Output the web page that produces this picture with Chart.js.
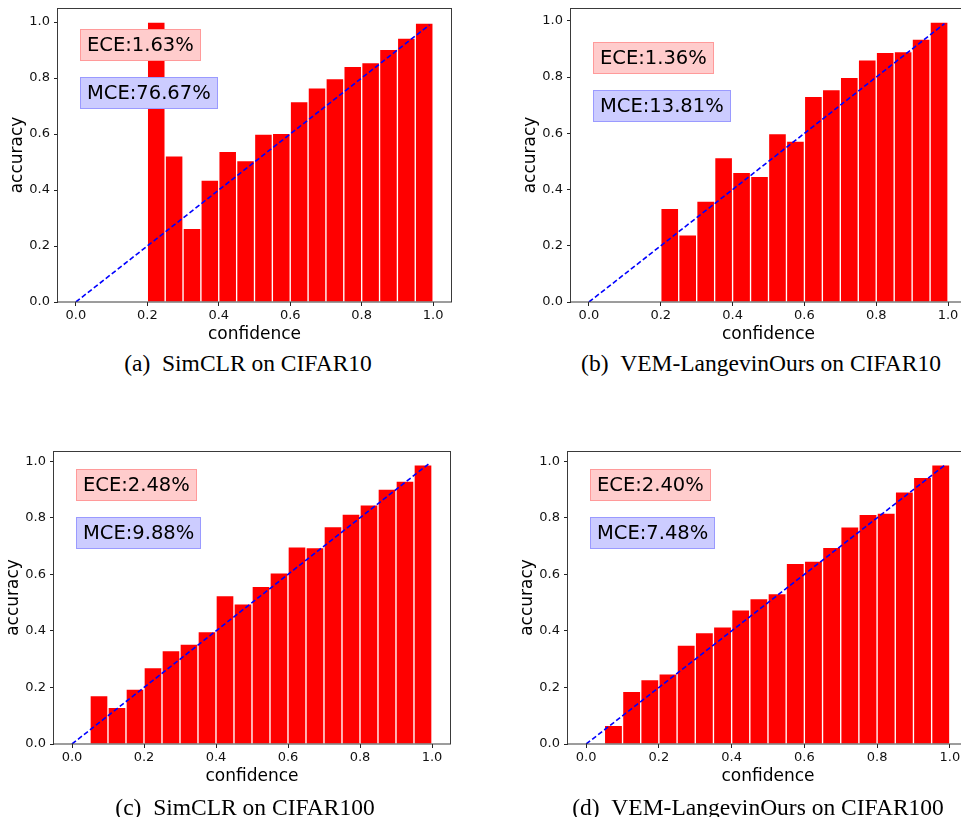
<!DOCTYPE html>
<html>
<head>
<meta charset="utf-8">
<script src="https://cdn.jsdelivr.net/npm/chart.js@4.4.0/dist/chart.umd.min.js"></script>
<style>
  html, body { margin: 0; padding: 0; background: #fff; width: 961px; height: 817px; overflow: hidden; }
  body { position: relative; }
  .cap {
    position: absolute;
    font-family: "Liberation Serif", "Times New Roman", serif;
    font-size: 23.5px;
    line-height: 23px;
    color: #000;
    white-space: nowrap;
    transform: translateX(-50%);
  }
</style>
</head>
<body>
<script>
// bin centres of the 20 confidence bins (width 0.05)
const binCenters = [0.025, 0.075, 0.125, 0.175, 0.225, 0.275, 0.325, 0.375, 0.425, 0.475,
                    0.525, 0.575, 0.625, 0.675, 0.725, 0.775, 0.825, 0.875, 0.925, 0.975];
const xTickValues = [0, 0.2, 0.4, 0.6, 0.8, 1.0];
const yTickValues = [0, 0.2, 0.4, 0.6, 0.8, 1.0];
const idealLine = [0, 0.99];

// accuracy per bin, null = empty bin
const accSimclrCifar10  = [null, null, null, null, 1.000, 0.522, 0.263, 0.435, 0.538, 0.505,
                           0.600, 0.602, 0.716, 0.765, 0.798, 0.842, 0.855, 0.902, 0.943, 0.996];
const accOursCifar10    = [null, null, null, null, 0.333, 0.239, 0.359, 0.514, 0.461, 0.447,
                           0.599, 0.572, 0.732, 0.756, 0.799, 0.861, 0.888, 0.891, 0.935, 0.996];
const accSimclrCifar100 = [null, 0.171, 0.130, 0.194, 0.270, 0.330, 0.353, 0.398, 0.525, 0.496,
                           0.558, 0.605, 0.697, 0.695, 0.769, 0.813, 0.846, 0.902, 0.930, 0.987];
const accOursCifar100   = [null, 0.066, 0.186, 0.228, 0.248, 0.350, 0.394, 0.414, 0.475, 0.514,
                           0.532, 0.639, 0.647, 0.696, 0.768, 0.812, 0.817, 0.892, 0.943, 0.987];

const eceLabels = ['ECE:1.63%', 'ECE:1.36%', 'ECE:2.48%', 'ECE:2.40%'];
const mceLabels = ['MCE:76.67%', 'MCE:13.81%', 'MCE:9.88%', 'MCE:7.48%'];
const captions = ['SimCLR on CIFAR10', 'VEM-LangevinOurs on CIFAR10',
                  'SimCLR on CIFAR100', 'VEM-LangevinOurs on CIFAR100'];
const captionTags = ['(a)', '(b)', '(c)', '(d)'];

// layout of each subplot (page pixels)
const panels = [
  { acc: accSimclrCifar10,  canvas: [0, 0, 480, 350],     area: { l: 58, r: 451, t: 8, b: 302 },  boxY: [21, 69], cap: [248, 352] },
  { acc: accOursCifar10,    canvas: [480, 0, 490, 350],   area: { l: 91, r: 486, t: 8, b: 302 },  boxY: [34, 82], cap: [761, 352] },
  { acc: accSimclrCifar100, canvas: [0, 430, 480, 365],   area: { l: 54, r: 450, t: 21, b: 314 }, boxY: [18, 66], cap: [245, 796] },
  { acc: accOursCifar100,   canvas: [480, 430, 490, 365], area: { l: 88, r: 488, t: 21, b: 314 }, boxY: [18, 66], cap: [758, 796] }
];

const tickFont = { family: 'DejaVu Sans', size: 13, lineHeight: 1.2 };
const labelFont = { family: 'DejaVu Sans', size: 17, lineHeight: 1 };

function makePanel(p, i) {
  const [cx, cy, W, H] = p.canvas;
  const a = p.area;
  const wrap = document.createElement('div');
  wrap.style.cssText = `position:absolute;left:${cx}px;top:${cy}px;width:${W}px;height:${H}px;`;
  const cv = document.createElement('canvas');
  cv.width = W; cv.height = H;
  cv.style.width = W + 'px'; cv.style.height = H + 'px';
  wrap.appendChild(cv);
  document.body.appendChild(wrap);

  const cap = document.createElement('div');
  cap.className = 'cap';
  cap.style.left = p.cap[0] + 'px';
  cap.style.top = p.cap[1] + 'px';
  cap.innerHTML = captionTags[i] + '&ensp;' + captions[i];
  document.body.appendChild(cap);

  const vals = p.acc.filter(v => v !== null);
  const yMax = Math.max(...vals) * 1.05;

  // frame + ECE/MCE boxes
  const framePlugin = {
    id: 'frameAndBoxes',
    afterDraw(chart) {
      const ctx = chart.ctx;
      const ca = chart.chartArea;
      ctx.save();
      ctx.strokeStyle = '#3a3a3a';
      ctx.lineWidth = 1;
      ctx.strokeRect(Math.round(ca.left) - 0.5, Math.round(ca.top) + 0.5,
                     Math.round(ca.right - ca.left) + 1, Math.round(ca.bottom - ca.top) - 0.5);

      ctx.font = '19.5px "DejaVu Sans"';
      ctx.textBaseline = 'middle';
      ctx.textAlign = 'left';
      const boxes = [
        { text: eceLabels[i], y: p.boxY[0], fill: '#ffcccc', edge: '#ff9a9a' },
        { text: mceLabels[i], y: p.boxY[1], fill: '#ccccff', edge: '#9a9aff' }
      ];
      boxes.forEach(b => {
        const w = Math.round(ctx.measureText(b.text).width + 14);
        const h = 32;
        const x = Math.round(ca.left + 22);
        const y = Math.round(ca.top + b.y);
        ctx.fillStyle = b.fill;
        ctx.fillRect(x, y, w, h);
        ctx.strokeStyle = b.edge;
        ctx.strokeRect(x + 0.5, y + 0.5, w - 1, h - 1);
        ctx.fillStyle = '#000';
        ctx.fillText(b.text, x + 7, y + h / 2 + 0.5);
      });
      ctx.restore();
    }
  };

  new Chart(cv, {
    type: 'bar',
    data: {
      datasets: [
        {
          type: 'line',
          data: idealLine.map(v => ({ x: v, y: v })),
          borderColor: '#0000ff',
          borderWidth: 1.6,
          borderDash: [5, 2.6],
          pointRadius: 0,
          fill: false,
          order: 0
        },
        {
          type: 'bar',
          data: binCenters.map((c, k) => ({ x: c, y: p.acc[k] })),
          backgroundColor: '#ff0000',
          borderColor: '#ffffff',
          borderWidth: 1,
          borderSkipped: 'bottom',
          barPercentage: 1,
          categoryPercentage: 1,
          order: 1
        }
      ]
    },
    options: {
      responsive: false,
      animation: false,
      devicePixelRatio: 1,
      layout: { padding: { left: 0, top: a.t, right: W - a.r, bottom: 0 } },
      plugins: { legend: { display: false }, tooltip: { enabled: false } },
      scales: {
        x: {
          type: 'linear',
          min: -0.05,
          max: 1.05,
          offset: false,
          afterBuildTicks: s => { s.ticks = xTickValues.map(v => ({ value: v })); },
          afterFit: s => {
            s.height = H - a.b;
            s.paddingLeft = 0; s.paddingRight = 0; s.paddingTop = 0; s.paddingBottom = 0;
          },
          grid: { display: true, drawOnChartArea: false, drawTicks: true, tickLength: 4, tickColor: '#222', offset: false },
          border: { display: false },
          ticks: { font: tickFont, color: '#111', padding: 2, maxRotation: 0, autoSkip: false,
                   callback: v => Number(v).toFixed(1) },
          title: { display: true, text: 'confidence', font: labelFont, color: '#000',
                   padding: { top: 0, bottom: H - a.b - 32.5 - 8.5 } }
        },
        y: {
          type: 'linear',
          min: 0,
          max: yMax,
          afterBuildTicks: s => { s.ticks = yTickValues.map(v => ({ value: v })); },
          afterFit: s => {
            s.width = a.l;
            s.paddingLeft = 0; s.paddingRight = 0; s.paddingTop = 0; s.paddingBottom = 0;
          },
          grid: { display: true, drawOnChartArea: false, drawTicks: true, tickLength: 4, tickColor: '#222' },
          border: { display: false },
          ticks: { font: tickFont, color: '#111', padding: 4, callback: v => Number(v).toFixed(1) },
          title: { display: true, text: 'accuracy', font: labelFont, color: '#000',
                   padding: { top: a.l - 40 - 8.5, bottom: 0 } }
        }
      }
    },
    plugins: [framePlugin]
  });
}

panels.forEach(makePanel);
</script>
</body>
</html>
